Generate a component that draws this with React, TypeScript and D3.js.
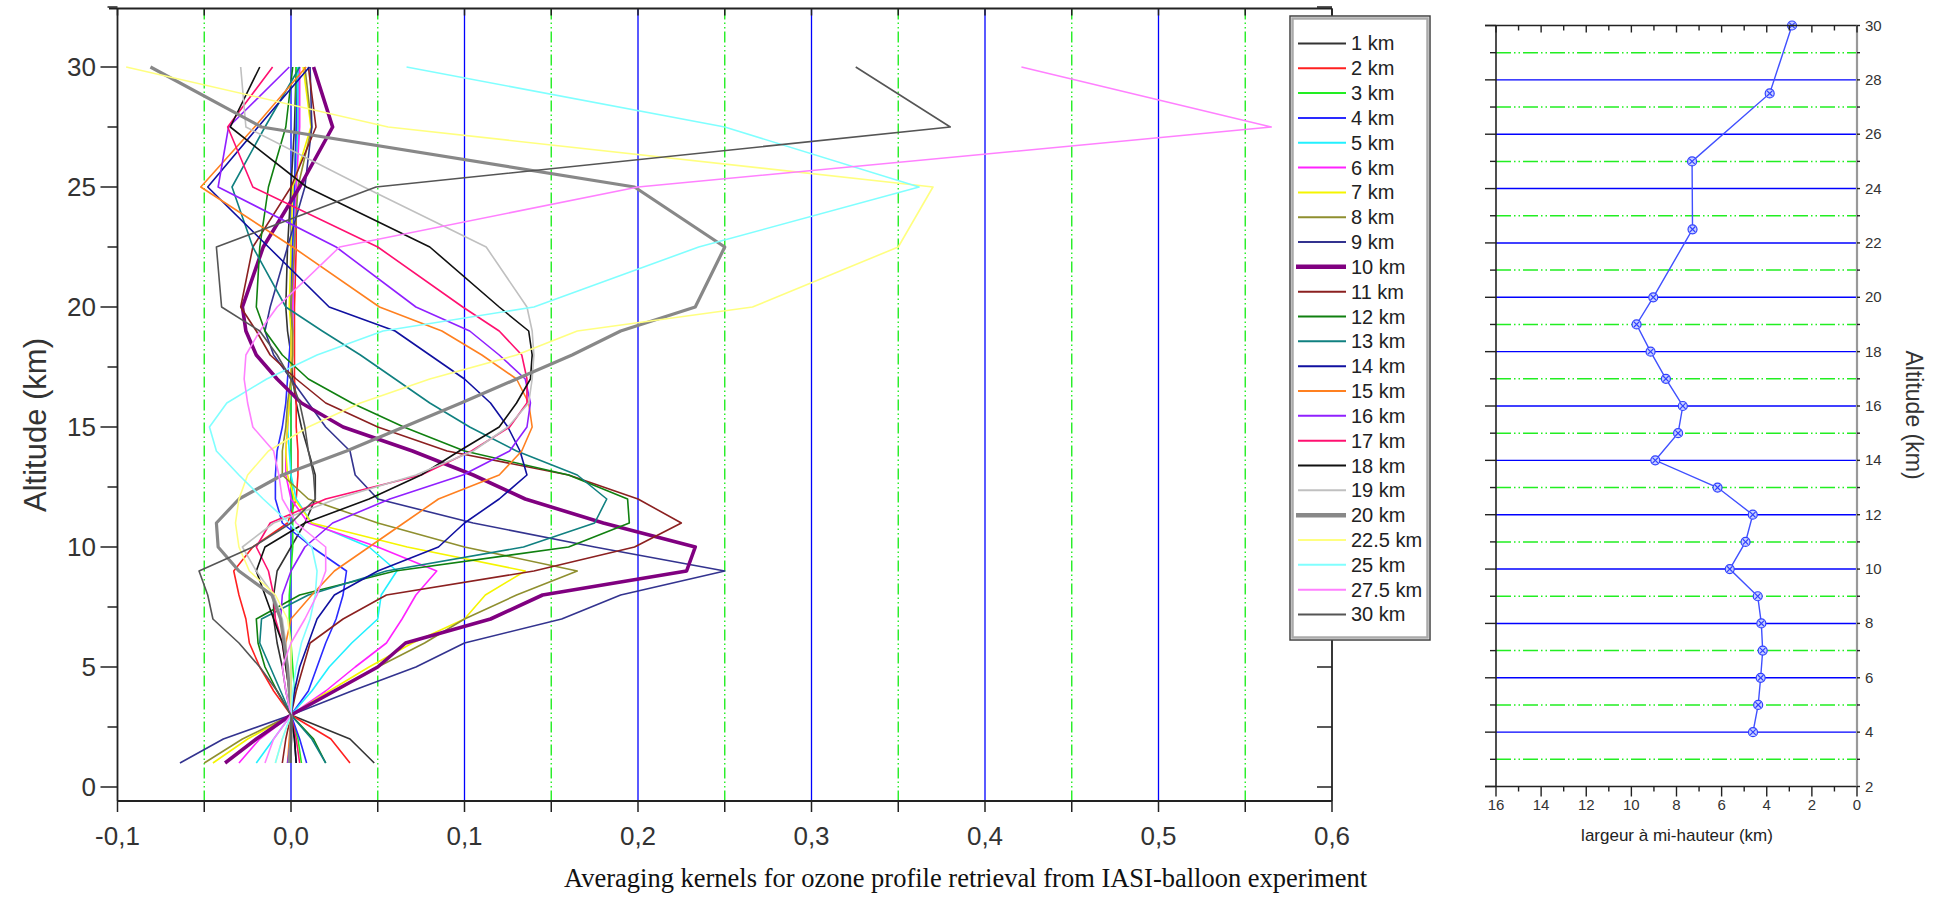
import React from "react";
import * as d3 from "d3";

const W = 1935;
const H = 907;

// altitude grid of the kernels (km)
const ALTITUDES = [1, 2, 3, 4, 5, 6, 7, 8, 9, 10, 11, 12, 13, 14, 15, 16, 17, 18, 19, 20, 22.5, 25, 27.5, 30];

const KERNEL_LABELS = ["1 km", "2 km", "3 km", "4 km", "5 km", "6 km", "7 km", "8 km", "9 km", "10 km", "11 km", "12 km", "13 km", "14 km", "15 km", "16 km", "17 km", "18 km", "19 km", "20 km", "22.5 km", "25 km", "27.5 km", "30 km"];
const KERNEL_COLORS = ["#333333", "#ff2020", "#22ee22", "#2a2aff", "#22f0ff", "#ff22ff", "#f5f500", "#8f8f2f", "#33338f", "#800080", "#8b2020", "#108010", "#108080", "#1010a0", "#ff8020", "#9020ff", "#ff1070", "#111111", "#c0c0c0", "#888888", "#ffff80", "#80ffff", "#ff80ff", "#555555"];
const KERNEL_WIDTHS = [1.6, 1.6, 1.6, 1.6, 1.6, 1.6, 1.6, 1.6, 1.6, 3.6, 1.6, 1.6, 1.6, 1.6, 1.6, 1.6, 1.6, 1.6, 1.6, 3.2, 1.6, 1.6, 1.6, 1.6];

// kernel values, one per altitude in ALTITUDES
const K1 = [0.048, 0.034, 0, -0.003, -0.005, -0.008, -0.01, -0.01, -0.008, 0.0, 0.008, 0.014, 0.014, 0.01, 0.006, 0.003, 0.001, 0.0, -0.002, -0.003, -0.002, 0.0, 0.002, 0.003];
const K2 = [0.034, 0.023, 0, -0.01, -0.018, -0.024, -0.026, -0.03, -0.033, -0.022, -0.002, 0.003, 0.004, 0.004, 0.003, 0.003, 0.002, 0.002, 0.002, 0.002, 0.003, 0.003, 0.004, 0.004];
const K3 = [0.006, 0.004, 0, 0.002, 0.001, 0.0, -0.001, -0.001, 0.0, 0.001, 0.001, 0.001, 0.0, 0.0, 0.0, 0.0, 0.0, 0.0, 0.0, 0.0, 0.001, 0.002, 0.003, 0.003];
const K4 = [0.009, 0.005, 0, 0.01, 0.015, 0.02, 0.026, 0.03, 0.032, 0.012, -0.005, -0.009, -0.009, -0.008, -0.005, -0.003, -0.002, -0.001, 0.0, 0.0, 0.001, 0.002, 0.003, 0.004];
const K5 = [-0.02, -0.01, 0, 0.012, 0.022, 0.035, 0.05, 0.052, 0.061, 0.045, 0.012, 0.003, 0.0, -0.001, -0.002, -0.001, 0.0, 0.0, 0.001, 0.001, 0.002, 0.003, 0.004, 0.004];
const K6 = [-0.03, -0.018, 0, 0.02, 0.037, 0.055, 0.064, 0.072, 0.084, 0.05, 0.01, 0.0, -0.003, -0.003, -0.002, -0.001, 0.0, 0.0, 0.001, 0.001, 0.002, 0.003, 0.005, 0.005];
const K7 = [-0.045, -0.025, 0, 0.022, 0.045, 0.07, 0.1, 0.112, 0.135, 0.067, 0.012, 0.002, -0.002, -0.003, -0.002, -0.001, 0.0, 0.0, 0.0, -0.001, 0.0, 0.001, 0.0115, 0.007];
const K8 = [-0.05, -0.028, 0, 0.025, 0.05, 0.077, 0.1, 0.13, 0.165, 0.1, 0.05, 0.01, -0.005, -0.005, -0.003, -0.002, 0.0, 0.001, 0.001, 0.0, 0.002, 0.004, 0.012, 0.008];
const K9 = [-0.064, -0.039, 0, 0.035, 0.072, 0.1, 0.156, 0.19, 0.25, 0.175, 0.105, 0.05, 0.037, 0.034, 0.02, 0.01, 0.0, -0.01, -0.015, -0.012, -0.002, 0.008, 0.012, 0.011];
const K10 = [-0.038, -0.02, 0, 0.025, 0.05, 0.066, 0.115, 0.145, 0.228, 0.233, 0.18, 0.135, 0.105, 0.07, 0.03, 0.006, -0.008, -0.02, -0.026, -0.028, -0.016, 0.005, 0.024, 0.013];
const K11 = [-0.005, -0.003, 0, 0.003, 0.007, 0.011, 0.03, 0.055, 0.14, 0.198, 0.225, 0.2, 0.16, 0.09, 0.05, 0.02, 0.003, -0.012, -0.02, -0.029, -0.022, 0.0, 0.0144, 0.01];
const K12 = [0.02, 0.013, 0, -0.008, -0.015, -0.019, -0.02, 0.005, 0.06, 0.16, 0.195, 0.194, 0.16, 0.1, 0.065, 0.035, 0.01, -0.005, -0.015, -0.02, -0.018, -0.013, -0.003, 0.001];
const K13 = [0.02, 0.012, 0, -0.006, -0.012, -0.018, -0.017, 0.01, 0.055, 0.134, 0.175, 0.182, 0.165, 0.13, 0.103, 0.08, 0.06, 0.04, 0.018, -0.003, -0.022, -0.034, -0.015, 0.005];
const K14 = [0.003, 0.002, 0, 0.002, 0.005, 0.01, 0.015, 0.025, 0.05, 0.085, 0.1, 0.12, 0.136, 0.132, 0.125, 0.115, 0.1, 0.08, 0.06, 0.022, -0.013, -0.048, -0.019, 0.0106];
const K15 = [-0.002, -0.001, 0, -0.001, -0.002, -0.003, 0.0, 0.012, 0.025, 0.045, 0.065, 0.085, 0.12, 0.133, 0.139, 0.137, 0.13, 0.11, 0.087, 0.051, 0.001, -0.052, -0.021, 0.0087];
const K16 = [-0.002, 0.0, 0, -0.001, -0.002, -0.004, -0.006, -0.005, 0.0, 0.008, 0.024, 0.057, 0.099, 0.126, 0.136, 0.138, 0.135, 0.12, 0.103, 0.072, 0.026, -0.042, -0.036, -0.001];
const K17 = [0.005, 0.003, 0, -0.001, -0.003, -0.005, -0.009, -0.01, -0.013, -0.02, -0.012, 0.02, 0.075, 0.104, 0.126, 0.136, 0.136, 0.133, 0.12, 0.099, 0.05, -0.022, -0.0365, -0.0106];
const K18 = [0.003, 0.002, 0, -0.001, -0.003, -0.005, -0.01, -0.015, -0.02, -0.015, 0.008, 0.045, 0.075, 0.097, 0.12, 0.13, 0.138, 0.139, 0.137, 0.12, 0.08, 0.009, -0.035, -0.018];
const K19 = [0.0, 0.0, 0, -0.001, -0.002, -0.003, -0.005, -0.01, -0.02, -0.028, -0.01, 0.026, 0.072, 0.105, 0.125, 0.137, 0.139, 0.14, 0.139, 0.136, 0.1125, 0.042, -0.026, -0.029];
const K20 = [-0.001, 0.0, 0, -0.001, -0.002, -0.004, -0.006, -0.011, -0.03, -0.042, -0.043, -0.03, -0.005, 0.032, 0.065, 0.098, 0.13, 0.162, 0.19, 0.233, 0.25, 0.198, -0.017, -0.081];
const K22_5 = [-0.009, -0.005, 0, 0.0, 0.0, 0.0, -0.002, -0.009, -0.024, -0.03, -0.032, -0.03, -0.025, -0.013, 0.01, 0.04, 0.08, 0.13, 0.165, 0.266, 0.35, 0.37, 0.056, -0.095];
const K25 = [-0.009, -0.005, 0, 0.001, 0.003, 0.006, 0.011, 0.014, 0.015, 0.012, -0.001, -0.016, -0.03, -0.043, -0.047, -0.037, -0.014, 0.015, 0.053, 0.14, 0.235, 0.362, 0.25, 0.0666];
const K27_5 = [-0.015, -0.01, 0, -0.003, -0.005, 0.0, 0.008, 0.015, 0.02, 0.02, 0.003, -0.005, -0.007, -0.01, -0.022, -0.025, -0.027, -0.026, -0.018, -0.008, 0.028, 0.2, 0.565, 0.421];
const K30 = [0.0, 0.0, 0, -0.008, -0.018, -0.03, -0.045, -0.048, -0.053, -0.022, 0.0, 0.014, 0.013, 0.01, 0.008, 0.005, 0.0, -0.008, -0.018, -0.04, -0.043, 0.049, 0.38, 0.3255];

const KERNELS = [K1, K2, K3, K4, K5, K6, K7, K8, K9, K10, K11, K12, K13, K14, K15, K16, K17, K18, K19, K20, K22_5, K25, K27_5, K30];

// right panel: full width at half maximum vs altitude
const FWHM_ALT = [4, 5, 6, 7, 8, 9, 10, 11, 12, 13, 14, 15, 16, 17, 18, 19, 20, 22.5, 25, 27.5, 30];
const FWHM_KM = [4.61, 4.38, 4.27, 4.18, 4.24, 4.4, 5.64, 4.94, 4.62, 6.18, 8.94, 7.93, 7.72, 8.47, 9.15, 9.77, 9.03, 7.29, 7.31, 3.87, 2.88];

const X_TICKS = d3.range(-2, 13).map((i) => i * 0.05);
const Y_TICKS = d3.range(0, 14).map((i) => i * 2.5);
const R_X_TICKS = d3.range(0, 17);
const R_Y_TICKS = d3.range(2, 31);

const SANS = "'Liberation Sans', Arial, sans-serif";
const GREEN = "#22ee22";
const BLUE = "#0000ff";
const DASH_DOT_DOT = "11,3,1.5,3,1.5,3";

export default function App() {
  // left panel scales
  const x = d3.scaleLinear().domain([-0.1, 0.6]).range([117.5, 1332]);
  const y = d3.scaleLinear().domain([0, 30]).range([787, 67]);
  const top = 8.5;
  const bottom = 801;

  // right panel scales
  const xr = d3.scaleLinear().domain([16, 0]).range([1496, 1857]);
  const yr = d3.scaleLinear().domain([2, 30]).range([786.5, 25.5]);

  const kernelLine = d3
    .line<number>()
    .x((d) => x(d))
    .y((_, i) => y(ALTITUDES[i]));

  const fwhmLine = d3
    .line<number>()
    .x((d) => xr(d))
    .y((_, i) => yr(FWHM_ALT[i]));

  const fmt = (v: number) => d3.format(".1f")(v).replace(".", ",").replace("−", "-");

  const legendY = (i: number) => 43.4 + i * 24.83;

  return (
    <svg
      width={W}
      height={H}
      viewBox={`0 0 ${W} ${H}`}
      style={{ position: "absolute", left: 0, top: 0, background: "#fff", display: "block" }}
    >
      <rect width={W} height={H} fill="#fff" />

      {/* ---------- left panel ---------- */}
      {/* vertical grid */}
      {X_TICKS.filter((v) => v > -0.09 && v < 0.59).map((v, i) => {
        const major = Math.round(v * 100) % 10 === 0;
        return (
          <line
            key={"g" + i}
            x1={x(v)}
            x2={x(v)}
            y1={top}
            y2={bottom}
            stroke={major ? BLUE : GREEN}
            strokeWidth={major ? 1.3 : 1.4}
            strokeDasharray={major ? undefined : DASH_DOT_DOT}
          />
        );
      })}

      {/* kernels */}
      {KERNELS.map((k, i) => (
        <path
          key={"k" + i}
          d={kernelLine(k) || ""}
          fill="none"
          stroke={KERNEL_COLORS[i]}
          strokeWidth={KERNEL_WIDTHS[i]}
          strokeLinejoin="round"
        />
      ))}

      {/* frame */}
      <g stroke="#222" strokeWidth={1.8} fill="none">
        <line x1={109} x2={1332} y1={top} y2={top} />
        <line x1={x(-0.1)} x2={x(-0.1)} y1={top} y2={bottom} />
        <line x1={x(-0.1)} x2={1332} y1={bottom} y2={bottom} />
        <line x1={1332} x2={1332} y1={top} y2={bottom} />
      </g>
      {/* x ticks */}
      {X_TICKS.map((v, i) => (
        <g key={"xt" + i} stroke="#222" strokeWidth={1.5}>
          <line x1={x(v)} x2={x(v)} y1={bottom} y2={bottom + 11} />
          <line x1={x(v)} x2={x(v)} y1={top} y2={top + 7} />
        </g>
      ))}
      {X_TICKS.filter((_, i) => i % 2 === 0).map((v, i) => (
        <text
          key={"xl" + i}
          x={x(v)}
          y={845}
          textAnchor="middle"
          fontFamily={SANS}
          fontSize={26}
          fill="#333"
        >
          {fmt(v)}
        </text>
      ))}
      {/* y ticks */}
      {Y_TICKS.map((v, i) => {
        const major = i % 2 === 0;
        return (
          <g key={"yt" + i} stroke="#222" strokeWidth={1.5}>
            <line x1={x(-0.1) - (major ? 17 : 10)} x2={x(-0.1)} y1={y(v)} y2={y(v)} />
            <line x1={1332 - 15} x2={1332} y1={y(v)} y2={y(v)} />
          </g>
        );
      })}
      {Y_TICKS.filter((_, i) => i % 2 === 0).map((v, i) => (
        <text
          key={"yl" + i}
          x={96}
          y={y(v) + 9}
          textAnchor="end"
          fontFamily={SANS}
          fontSize={26}
          fill="#333"
        >
          {v}
        </text>
      ))}
      <text
        transform={`translate(46,425) rotate(-90)`}
        textAnchor="middle"
        fontFamily={SANS}
        fontSize={31}
        fill="#333"
      >
        Altitude (km)
      </text>

      {/* legend */}
      <rect x={1290} y={16} width={140} height={624} fill="#fff" stroke="#444" strokeWidth={1.5} />
      <rect x={1292.5} y={18.5} width={135} height={619} fill="none" stroke="#aaa" strokeWidth={2.5} />
      {KERNEL_LABELS.map((lab, i) => (
        <g key={"lg" + i}>
          <line
            x1={KERNEL_WIDTHS[i] > 3 ? 1296 : 1298}
            x2={1346}
            y1={legendY(i)}
            y2={legendY(i)}
            stroke={KERNEL_COLORS[i]}
            strokeWidth={KERNEL_WIDTHS[i] > 3 ? 4.5 : 2}
          />
          <text x={1351} y={legendY(i) + 7} fontFamily={SANS} fontSize={20} fill="#222">
            {lab}
          </text>
        </g>
      ))}

      {/* ---------- right panel ---------- */}
      {R_Y_TICKS.filter((v) => v > 2 && v < 30).map((v) => {
        const major = v % 2 === 0;
        return (
          <line
            key={"rg" + v}
            x1={xr(16)}
            x2={xr(0)}
            y1={yr(v)}
            y2={yr(v)}
            stroke={major ? BLUE : GREEN}
            strokeWidth={major ? 1.4 : 1.5}
            strokeDasharray={major ? undefined : "15,3,1.5,3,1.5,3"}
          />
        );
      })}

      <path d={fwhmLine(FWHM_KM) || ""} fill="none" stroke="#4050ff" strokeWidth={1.4} />
      {FWHM_KM.map((w, i) => {
        const cx = xr(w);
        const cy = yr(FWHM_ALT[i]);
        return (
          <g key={"m" + i} stroke="#3040ff" strokeWidth={1.2}>
            <circle cx={cx} cy={cy} r={4.5} fill="#c8d0ff" />
            <line x1={cx - 2.8} x2={cx + 2.8} y1={cy - 2.8} y2={cy + 2.8} />
            <line x1={cx - 2.8} x2={cx + 2.8} y1={cy + 2.8} y2={cy - 2.8} />
          </g>
        );
      })}

      {/* right panel axes */}
      <g stroke="#222" strokeWidth={1.6}>
        <line x1={xr(16)} x2={xr(16)} y1={yr(30)} y2={yr(2)} />
        <line x1={xr(16) - 11} x2={xr(0)} y1={yr(30)} y2={yr(30)} />
        <line x1={xr(16) - 11} x2={xr(0)} y1={yr(2)} y2={yr(2)} />
      </g>
      <line x1={xr(0)} x2={xr(0)} y1={yr(30)} y2={yr(2)} stroke="#999" strokeWidth={2.2} />
      {R_Y_TICKS.map((v) => {
        const major = v % 2 === 0;
        return (
          <g key={"ryt" + v} stroke="#222" strokeWidth={1.4}>
            <line x1={xr(16) - (major ? 11 : 6)} x2={xr(16)} y1={yr(v)} y2={yr(v)} />
            <line x1={xr(0)} x2={xr(0) + 3} y1={yr(v)} y2={yr(v)} />
          </g>
        );
      })}
      {R_X_TICKS.map((v) => {
        const major = v % 2 === 0;
        return (
          <g key={"rxt" + v} stroke="#222" strokeWidth={1.4}>
            <line x1={xr(v)} x2={xr(v)} y1={yr(2)} y2={yr(2) + (major ? 10 : 5)} />
            <line x1={xr(v)} x2={xr(v)} y1={yr(30)} y2={yr(30) + (major ? 7 : 5)} />
          </g>
        );
      })}
      {R_Y_TICKS.filter((v) => v % 2 === 0).map((v) => (
        <text key={"ryl" + v} x={1865} y={yr(v) + 5} fontFamily={SANS} fontSize={15} fill="#333">
          {v}
        </text>
      ))}
      {R_X_TICKS.filter((v) => v % 2 === 0).map((v) => (
        <text
          key={"rxl" + v}
          x={xr(v)}
          y={809.5}
          textAnchor="middle"
          fontFamily={SANS}
          fontSize={15}
          fill="#333"
        >
          {v}
        </text>
      ))}
      <text x={1677} y={841} textAnchor="middle" fontFamily={SANS} fontSize={17} fill="#222">
        largeur à mi-hauteur (km)
      </text>
      <text
        transform={`translate(1906,415) rotate(90)`}
        textAnchor="middle"
        fontFamily={SANS}
        fontSize={23}
        fill="#333"
      >
        Altitude (km)
      </text>

      {/* caption */}
      <text x={564} y={887} fontFamily="'Liberation Serif', 'Times New Roman', serif" fontSize={26.5} fill="#111">
        Averaging kernels for ozone profile retrieval from IASI-balloon experiment
      </text>
    </svg>
  );
}
